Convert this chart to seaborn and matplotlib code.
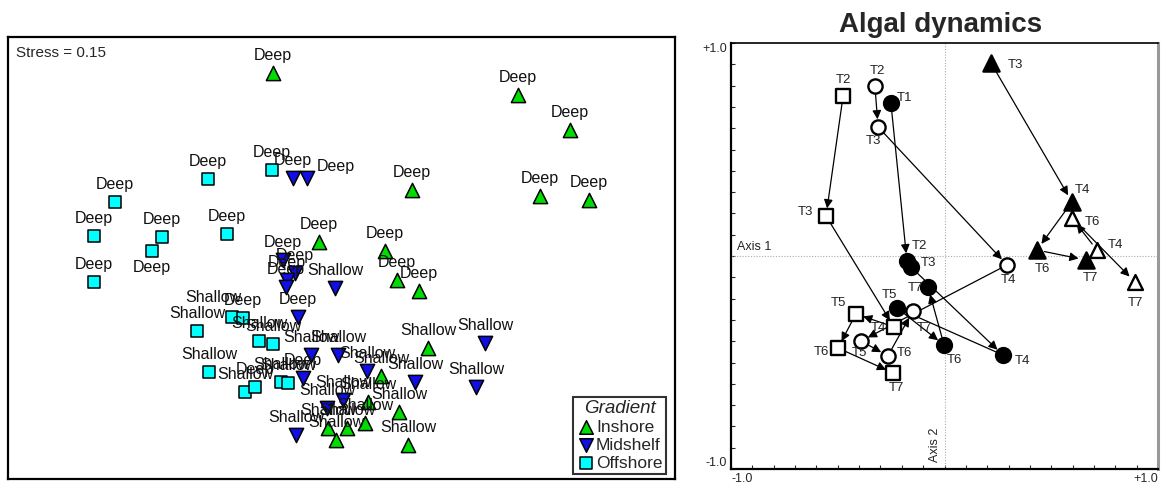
import numpy as np
import pandas as pd
import matplotlib
matplotlib.use("Agg")
import matplotlib.pyplot as plt
import seaborn as sns

# ---- left panel: nMDS of sites by gradient (coords, screen units)
inshore_x = [273, 518, 570, 412, 540, 589, 319, 385, 397, 419, 428, 381, 399, 408, 368, 328, 347, 365, 336]
inshore_y = [73, 95, 130, 190, 196, 200, 242, 251, 280, 291, 348, 376, 412, 445, 402, 428, 428, 423, 440]
inshore_lab = ["Deep", "Deep", "Deep", "Deep", "Deep", "Deep", "Deep", "Deep", "Deep", "Deep",
               "Shallow", "Shallow", "Shallow", "Shallow", "Shallow", "Shallow", "Shallow", "Shallow", "Shallow"]

midshelf_x = [293, 307, 283, 295, 287, 286, 335, 298, 311, 338, 367, 303, 485, 476, 415, 343, 327, 296]
midshelf_y = [178, 178, 260, 273, 280, 287, 288, 317, 355, 355, 371, 378, 343, 387, 382, 400, 408, 435]
midshelf_lab = ["Deep", "Deep", "Deep", "Deep", "Deep", "Deep", "Shallow", "Deep", "Shallow", "Shallow",
                "Shallow", "Deep", "Shallow", "Shallow", "Shallow", "Shallow", "Shallow", "Shallow"]

offshore_x = [208, 272, 115, 94, 162, 152, 227, 94, 232, 243, 197, 259, 273, 209, 245, 255, 281, 288]
offshore_y = [179, 170, 202, 236, 237, 251, 234, 282, 317, 318, 331, 341, 344, 372, 392, 387, 382, 383]
offshore_lab = ["Deep", "Deep", "Deep", "Deep", "Deep", "Deep", "Deep", "Deep", "Shallow", "Deep",
                "Shallow", "Shallow", "Shallow", "Shallow", "Shallow", "Deep", "Shallow", "Shallow"]

stress = 0.15

# ---- right panel: algal dynamics trajectories (Axis 1, Axis 2)
sq_open_t = ["T2", "T3", "T4", "T5", "T6", "T7"]
sq_open_x = [-0.475, -0.555, -0.237, -0.415, -0.499, -0.241]
sq_open_y = [0.751, 0.188, -0.333, -0.272, -0.432, -0.549]

ci_open_t = ["T2", "T3", "T4", "T5", "T6", "T7"]
ci_open_x = [-0.326, -0.311, 0.293, -0.391, -0.265, -0.148]
ci_open_y = [0.798, 0.606, -0.042, -0.399, -0.469, -0.258]

ci_fill_t = ["T1", "T2", "T3", "T4", "T5", "T6", "T7"]
ci_fill_x = [-0.251, -0.176, -0.157, 0.274, -0.222, -0.002, -0.077]
ci_fill_y = [0.718, -0.023, -0.052, -0.465, -0.244, -0.418, -0.146]

tri_fill_t = ["T3", "T4", "T6", "T7"]
tri_fill_x = [0.218, 0.597, 0.433, 0.663]
tri_fill_y = [0.906, 0.254, 0.028, -0.019]

tri_open_t = ["T4", "T6", "T7"]
tri_open_x = [0.714, 0.597, 0.892]
tri_open_y = [0.028, 0.178, -0.122]

# label offsets in pixels (dx right, dy down) for the right panel
sq_open_off = [(0, -16), (-21, -4), (-15, 1), (-17, -11), (-17, 4), (3, 15)]
ci_open_off = [(3, -15), (-5, 14), (1, 15), (-2, 12), (17, -3), (12, 17)]
ci_fill_off = [(14, -5), (13, -15), (17, -4), (19, 6), (-8, -13), (10, 15), (-13, 1)]
tri_fill_off = [(24, 2), (10, -12), (5, 19), (4, 18)]
tri_open_off = [(18, -5), (20, 4), (0, 21)]

sns.set_style("white")
plt.rcParams["font.family"] = ["Liberation Sans", "DejaVu Sans"]

W, H = 1162, 483
fig = plt.figure(figsize=(W / 100, H / 100), dpi=100)
ax1 = fig.add_axes([8 / W, 4 / H, 667 / W, 442 / H])
ax2 = fig.add_axes([731 / W, 14 / H, 427 / W, 426 / H])

# ---------------- left panel
groups = [
    ("Inshore", inshore_x, inshore_y, inshore_lab, "^", "#00dd00", 105),
    ("Midshelf", midshelf_x, midshelf_y, midshelf_lab, "v", "#1010e6", 105),
    ("Offshore", offshore_x, offshore_y, offshore_lab, "s", "#00ffff", 72),
]
# a few labels that sit off the default "above" position (dx, up) in px
shifts = {("Midshelf", 1): (29, 11), ("Offshore", 5): (0, -17), ("Offshore", 8): (-19, 19)}

for name, xs, ys, labs, mk, col, s in groups:
    sns.scatterplot(x=xs, y=ys, marker=mk, color=col, s=s, edgecolor="black",
                    linewidth=1.1, ax=ax1, label=name, zorder=3)
    for i, (x, y, t) in enumerate(zip(xs, ys, labs)):
        dx, up = shifts.get((name, i), (0, 17))
        ax1.annotate(t, (x, y), xytext=(dx, up), textcoords="offset pixels",
                     ha="center", va="center", fontsize=11.5, color="#111111", zorder=4)

ax1.set_xlim(8, 675)
ax1.set_ylim(479, 37)
ax1.set_xticks([])
ax1.set_yticks([])
ax1.set_xlabel("")
ax1.set_ylabel("")
for sp in ax1.spines.values():
    sp.set_visible(True)
    sp.set_color("black")
    sp.set_linewidth(1.6)
ax1.text(16, 53, f"Stress = {stress:.2f}", ha="left", va="center", fontsize=11)

leg = ax1.legend(title="Gradient", loc="lower right",
                 bbox_to_anchor=((666 - 8) / 667, (479 - 474) / 442), borderaxespad=0,
                 frameon=True, fancybox=False, edgecolor="black", fontsize=12.5,
                 title_fontsize=13.5, handletextpad=0.1, handlelength=1.0,
                 labelspacing=0.15, borderpad=0.2, markerscale=0.95)
leg.get_title().set_fontstyle("italic")
leg.get_frame().set_linewidth(1.5)

# ---------------- right panel
series = [
    (sq_open_t, sq_open_x, sq_open_y, sq_open_off, "s", "white", 95),
    (ci_open_t, ci_open_x, ci_open_y, ci_open_off, "o", "white", 105),
    (ci_fill_t, ci_fill_x, ci_fill_y, ci_fill_off, "o", "black", 115),
    (tri_fill_t, tri_fill_x, tri_fill_y, tri_fill_off, "^", "black", 135),
    (tri_open_t, tri_open_x, tri_open_y, tri_open_off, "^", "white", 115),
]

ax2.axhline(0, color="#aaaaaa", lw=0.8, ls=(0, (1, 1.5)), zorder=1)
ax2.axvline(0, color="#aaaaaa", lw=0.8, ls=(0, (1, 1.5)), zorder=1)

for ts, xs, ys, offs, mk, face, s in series:
    for i in range(len(xs) - 1):
        dist = np.hypot((xs[i + 1] - xs[i]) * 213.5, (ys[i + 1] - ys[i]) * 213)
        if dist < 15:
            continue
        ax2.annotate("", xy=(xs[i + 1], ys[i + 1]), xytext=(xs[i], ys[i]),
                     arrowprops=dict(arrowstyle="-|>", color="black", lw=0.9,
                                     shrinkA=5.5, shrinkB=5.5, mutation_scale=13),
                     zorder=2)
    sns.scatterplot(x=xs, y=ys, marker=mk, color=face, s=s, edgecolor="black",
                    linewidth=1.7, ax=ax2, zorder=3, legend=False)
    for x, y, t, (dx, dy) in zip(xs, ys, ts, offs):
        ax2.annotate(t, (x, y), xytext=(dx, -dy), textcoords="offset pixels",
                     ha="center", va="center", fontsize=9.5, color="#222222", zorder=4)

ax2.set_xlim(-1, 1)
ax2.set_ylim(-1, 1)
ax2.set_xticks([-1, 1], ["-1.0", "+1.0"])
ax2.set_yticks([-1, 1], ["-1.0", "+1.0"])
ax2.set_xticks(np.arange(-0.9, 0.95, 0.1), minor=True)
ax2.set_yticks(np.arange(-0.9, 0.95, 0.1), minor=True)
ax2.tick_params(which="both", direction="in", length=3, width=0.8, labelsize=9, pad=3,
                bottom=True, left=True, top=False, right=False)
xl = ax2.get_xticklabels()
xl[0].set_ha("left")
xl[1].set_ha("right")
yl = ax2.get_yticklabels()
yl[0].set_va("bottom")
yl[1].set_va("top")
ax2.set_xlabel("")
ax2.set_ylabel("")

for side in ["left", "bottom"]:
    ax2.spines[side].set_color("black")
    ax2.spines[side].set_linewidth(1.6)
ax2.spines["top"].set_color("black")
ax2.spines["top"].set_linewidth(1.2)
ax2.spines["right"].set_color("#999999")
ax2.spines["right"].set_linewidth(2.2)

ax2.text(-0.972, 0.042, "Axis 1", ha="left", va="center", fontsize=9, color="#222222")
ax2.text(-0.044, -0.887, "Axis 2", ha="center", va="center", rotation=90, fontsize=9, color="#222222")
ax2.text(0.49, 1.042, "Algal dynamics", transform=ax2.transAxes, ha="center", va="center",
         fontsize=20, fontweight="bold")

fig.savefig("out.png", dpi=100)
